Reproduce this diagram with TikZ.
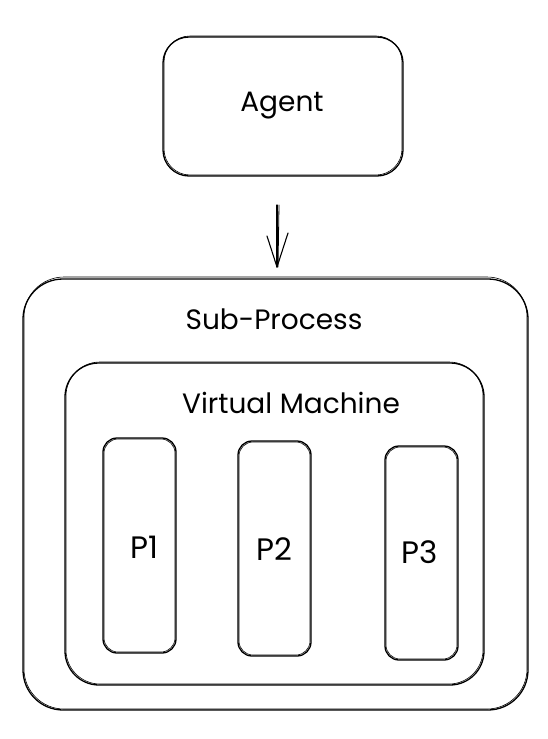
\documentclass[tikz,border=0pt]{standalone}
\usepackage{fontspec}
\setmainfont{Poppins}
\usetikzlibrary{arrows.meta}
\tikzset{
  sk/.style={draw=black, line width=1.3pt, line join=round, line cap=round},
  lbl/.style={font=\fontsize{28}{32}\selectfont, inner sep=0pt},
  plbl/.style={font=\fontsize{31}{34}\selectfont, inner sep=0pt},
}
\begin{document}
\begin{tikzpicture}[x=1pt,y=-1pt]
\useasboundingbox (0,0) rectangle (548,739);
% Agent
\draw[sk, rounded corners=26pt] (163,37) rectangle (403,176);
\draw[sk, line width=0.6pt, rounded corners=26pt] (164,36) rectangle (402,175);
\node[lbl] (agent) at (282,106) {Agent};
\coordinate (agentb) at (277,205);
% Sub-Process
\draw[sk, rounded corners=40pt] (23,279) rectangle (528,710);
\draw[sk, line width=0.6pt, rounded corners=40pt] (24,277) rectangle (527,709);
\node[lbl] (sub) at (274,319) {Sub-Process};
\coordinate (subt) at (277,267);
% Arrow
\draw[sk, line width=1.1pt] (agentb) -- (subt);
\draw[sk, line width=0.8pt] ([xshift=2pt]agentb) -- ([xshift=1pt]subt);
\draw[sk, line width=1.1pt] (267,236) -- (subt) -- (288,233);
% Virtual Machine
\draw[sk, rounded corners=34pt] (65,363) rectangle (484,685);
\draw[sk, line width=0.6pt, rounded corners=34pt] (66,362) rectangle (483,684);
\node[lbl] (vm) at (291,403) {Virtual Machine};
% P boxes
\draw[sk, rounded corners=14pt] (103,438) rectangle (176,653);
\draw[sk, line width=0.6pt, rounded corners=14pt] (104,439) rectangle (175,652);
\node[plbl] (p1) at (144,547) {P1};
\draw[sk, rounded corners=14pt] (238,441) rectangle (311,656);
\draw[sk, line width=0.6pt, rounded corners=14pt] (239,442) rectangle (310,655);
\node[plbl] (p2) at (274,549) {P2};
\draw[sk, rounded corners=14pt] (385,446) rectangle (458,660);
\draw[sk, line width=0.6pt, rounded corners=14pt] (386,447) rectangle (457,659);
\node[plbl] (p3) at (420,552) {P3};
\end{tikzpicture}
\end{document}
